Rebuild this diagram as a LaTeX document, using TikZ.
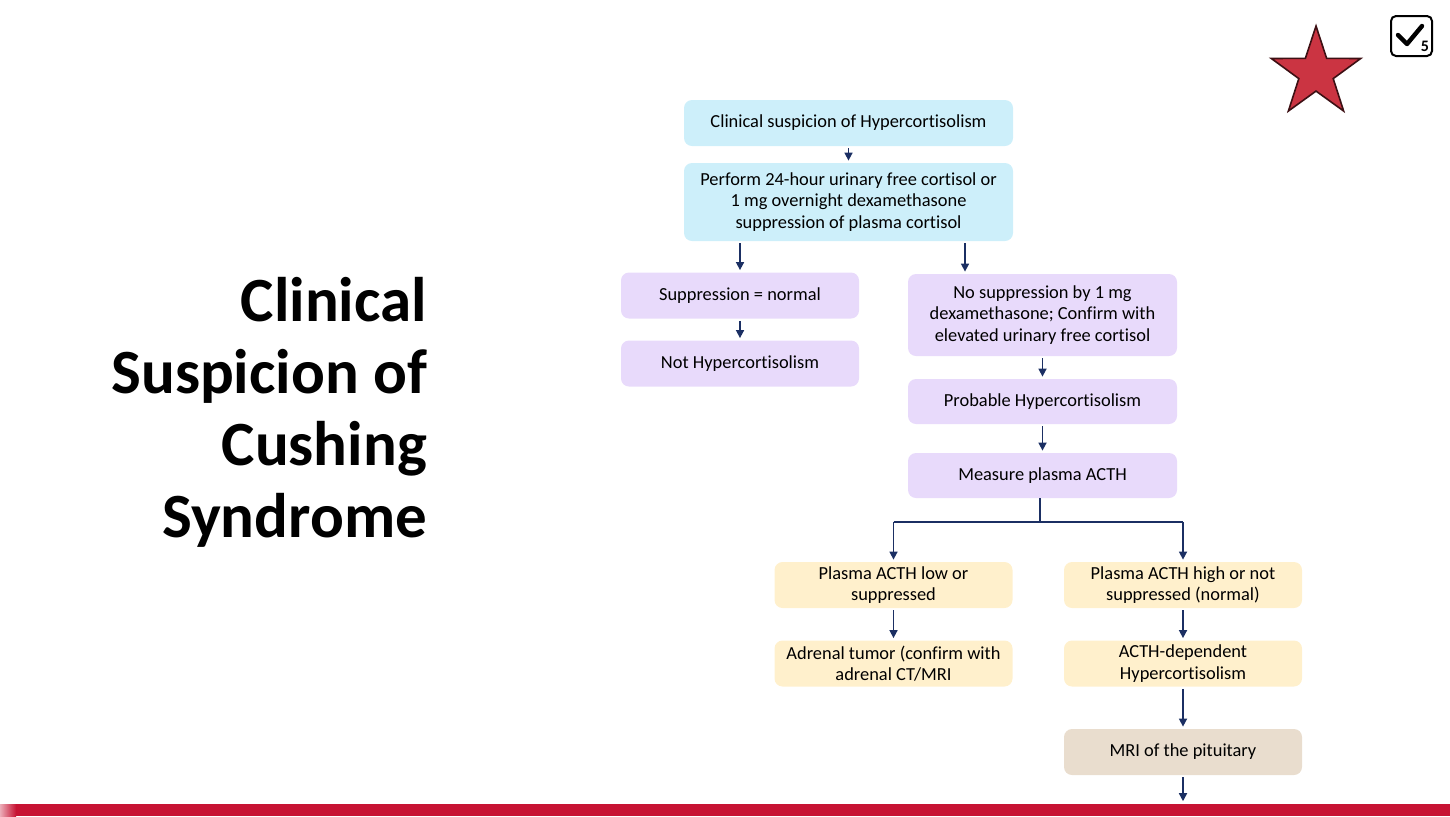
\documentclass[tikz,border=0pt]{standalone}
\usepackage{fontspec}
\setmainfont{Carlito}[Ligatures=NoCommon]
\usepackage{xcolor}
\usetikzlibrary{shapes.geometric, arrows.meta, positioning}
\definecolor{SkyBox}{HTML}{CDEFFA}
\definecolor{LilacBox}{HTML}{E8DAFB}
\definecolor{CreamBox}{HTML}{FFF0CC}
\definecolor{SandBox}{HTML}{E9DDCE}
\definecolor{FlowNavy}{HTML}{1B2F63}
\definecolor{BarRed}{HTML}{C71333}
\definecolor{StarRed}{HTML}{CB3442}

\tikzset{
  flowbox/.style={rounded corners=4pt, align=center, inner sep=2pt,
                  font=\fontsize{9.2}{10.8}\selectfont},
  wide/.style={flowbox, minimum width=164.5pt, minimum height=23pt},
  mid/.style={flowbox, minimum width=119pt, minimum height=23pt},
  flowarrow/.style={-{Triangle[width=4pt,length=4pt]}, FlowNavy, thick,
                    shorten <=1pt, shorten >=1pt},
  flowline/.style={FlowNavy, thick}
}

\begin{document}
\begin{tikzpicture}[x=0.5pt, y=-0.5pt]
    \useasboundingbox (0,0) rectangle (1450,816);

    % Title
    \node[anchor=east, align=right, font=\fontsize{31.5}{36}\selectfont\bfseries]
        (title) at (434,412) {Clinical\\Suspicion of\\Cushing\\Syndrome};

    % Star and check icon
    \node[star, star points=5, star point ratio=2.6, minimum size=47pt,
          inner sep=0pt, fill=StarRed, draw=black!70!StarRed, thick]
        (badge) at (1316,73) {};
    \draw[rounded corners=2.5pt, line width=1pt] (1391,16) rectangle (1432,56);
    \draw[line width=2.2pt, line cap=round, line join=round]
        (1398,35) -- (1407,44) -- (1422,26);
    \node[font=\fontsize{8}{8}\selectfont\bfseries, inner sep=0pt]
        (five) at (1425,46) {5};

    % Top steps
    \node[wide, fill=SkyBox, minimum height=23pt] (suspect) at (848.5,123)
        {Clinical suspicion of Hypercortisolism};
    \node[wide, fill=SkyBox, minimum height=39pt] (screen) at (848.5,202)
        {Perform 24-hour urinary free cortisol or\\1 mg overnight dexamethasone\\suppression of plasma cortisol};

    % Left branch
    \node[mid, fill=LilacBox] (normal) at (740,295.5) {Suppression = normal};
    \node[mid, fill=LilacBox] (nothyper) at (740,363.5) {Not Hypercortisolism};

    % Right branch
    \node[flowbox, fill=LilacBox, minimum width=134.5pt, minimum height=41pt]
        (nosupp) at (1042.5,315)
        {No suppression by 1 mg\\dexamethasone; Confirm with\\elevated urinary free cortisol};
    \node[flowbox, fill=LilacBox, minimum width=134.5pt, minimum height=22.5pt]
        (probable) at (1042.5,401.5) {Probable Hypercortisolism};
    \node[flowbox, fill=LilacBox, minimum width=134.5pt, minimum height=22.5pt]
        (acth) at (1042.5,475.5) {Measure plasma ACTH};

    % ACTH results
    \node[mid, fill=CreamBox] (low) at (893.5,585) {Plasma ACTH low or\\suppressed};
    \node[mid, fill=CreamBox] (adrenal) at (893.5,663.5) {Adrenal tumor (confirm with\\adrenal CT/MRI};
    \node[mid, fill=CreamBox] (high) at (1183,585) {Plasma ACTH high or not\\suppressed (normal)};
    \node[mid, fill=CreamBox] (dependent) at (1183,663.5) {ACTH-dependent\\Hypercortisolism};
    \node[mid, fill=SandBox] (pituitary) at (1183,752) {MRI of the pituitary};

    % Bottom bar
    \node[fill=BarRed, minimum width=725pt, minimum height=6pt, inner sep=0pt,
          anchor=south west] (bar) at (0,816) {};
    \fill[left color=BarRed!35, right color=BarRed] (0,804) rectangle (16,816);

    % Arrows
    \coordinate (fork) at (965,0);
    \coordinate (split) at (1040,522);
    \draw[flowarrow] (suspect) -- (screen);
    \draw[flowarrow] (screen.south -| normal) -- (normal);
    \draw[flowarrow] (screen.south -| fork) -- (nosupp.north -| fork);
    \draw[flowarrow] (normal) -- (nothyper);
    \draw[flowarrow] (nosupp.south -| probable) -- (probable);
    \draw[flowarrow] (probable) -- (acth);
    \draw[flowline] (acth.south -| split) -- (split);
    \draw[flowline] (low.north |- split) -- (high.north |- split);
    \draw[flowarrow, shorten <=0pt] (low.north |- split) -- (low);
    \draw[flowarrow, shorten <=0pt] (high.north |- split) -- (high);
    \draw[flowarrow] (low) -- (adrenal);
    \draw[flowarrow] (high) -- (dependent);
    \draw[flowarrow] (dependent) -- (pituitary);
    \draw[flowarrow] (pituitary) -- (pituitary |- bar.north);
\end{tikzpicture}
\end{document}
